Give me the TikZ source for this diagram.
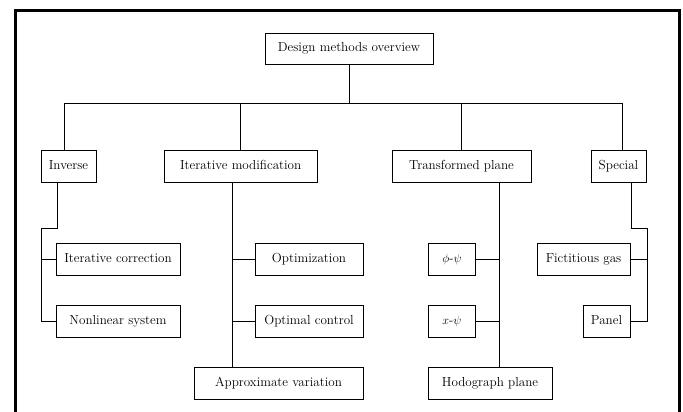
\documentclass[tikz,border=0pt]{standalone}
\usepackage{tikz}
\begin{document}
\begin{tikzpicture}
    [   x=1pt,y=-1pt,
        mbox/.style={draw=black,line width=0.9pt,minimum width=#1,minimum height=32,
                     inner sep=0pt,text height=9pt,text depth=2.5pt,
                     font=\fontsize{13.1}{15}\selectfont},
        link/.style={line width=0.9pt},
    ]
        \useasboundingbox (0,0) rectangle (683,412);
        \draw[line width=3pt] (15.5,412) -- (15.5,10.8) -- (679,10.8) -- (679,412);
        % top and first level
        \node[mbox=168,minimum height=31] (top) at (349,48.5) {Design methods overview};
        \node[mbox=55]  (inv) at (68.5,166)  {Inverse};
        \node[mbox=153] (itm) at (240.7,166) {Iterative modification};
        \node[mbox=139] (trp) at (461.5,166) {Transformed plane};
        \node[mbox=55]  (spc) at (618.5,166) {Special};
        % second level
        \node[mbox=124] (itc) at (118,259)   {Iterative correction};
        \node[mbox=124] (nls) at (118,321)   {Nonlinear system};
        \node[mbox=108] (opt) at (309,259)   {Optimization};
        \node[mbox=108] (opc) at (309,321)   {Optimal control};
        \node[mbox=169] (apv) at (278.5,383) {Approximate variation};
        \node[mbox=47]  (phi) at (452,259)   {$\phi$-$\psi$};
        \node[mbox=47]  (xps) at (452,321)   {$x$-$\psi$};
        \node[mbox=124] (hod) at (490,383)   {Hodograph plane};
        \node[mbox=93]  (fic) at (583.5,259) {Fictitious gas};
        \node[mbox=47]  (pan) at (606.5,321) {Panel};
        % bus under the top box
        \coordinate (bus) at (349,103);
        \coordinate (b-inv) at (64,103);
        \coordinate (b-itm) at (240.7,103);
        \coordinate (b-trp) at (461.5,103);
        \coordinate (b-spc) at (622.3,103);
        \draw[link] (top) -- (bus);
        \draw[link] (b-inv) -- (b-spc);
        \foreach \n in {inv,itm,trp,spc}
        {   \draw[link] (b-\n) -- (b-\n |- \n.north);
        }
        % inverse
        \coordinate (k-inv) at (41.5,228.5);
        \draw[link] ([xshift=-11.5]inv.south) |- (k-inv) -- (k-inv |- nls) -- (nls.west);
        \draw[link] (k-inv |- itc) -- (itc.west);
        % iterative modification
        \coordinate (v-itm) at ([xshift=-8.4]itm.south);
        \draw[link] (v-itm) -- (v-itm |- apv.north);
        \foreach \n in {opt,opc}
        {   \draw[link] (\n.west) -- (\n.west -| v-itm);
        }
        % transformed plane
        \coordinate (v-trp) at ([xshift=37.8]trp.south);
        \draw[link] (v-trp) -- (v-trp |- hod.north);
        \foreach \n in {phi,xps}
        {   \draw[link] (\n.east) -- (\n.east -| v-trp);
        }
        % special
        \coordinate (k-spc) at (647.3,228.5);
        \draw[link] ([xshift=13.2]spc.south) |- (k-spc) -- (k-spc |- pan) -- (pan.east);
        \draw[link] (fic.east) -- (fic.east -| k-spc);
\end{tikzpicture}
\end{document}
